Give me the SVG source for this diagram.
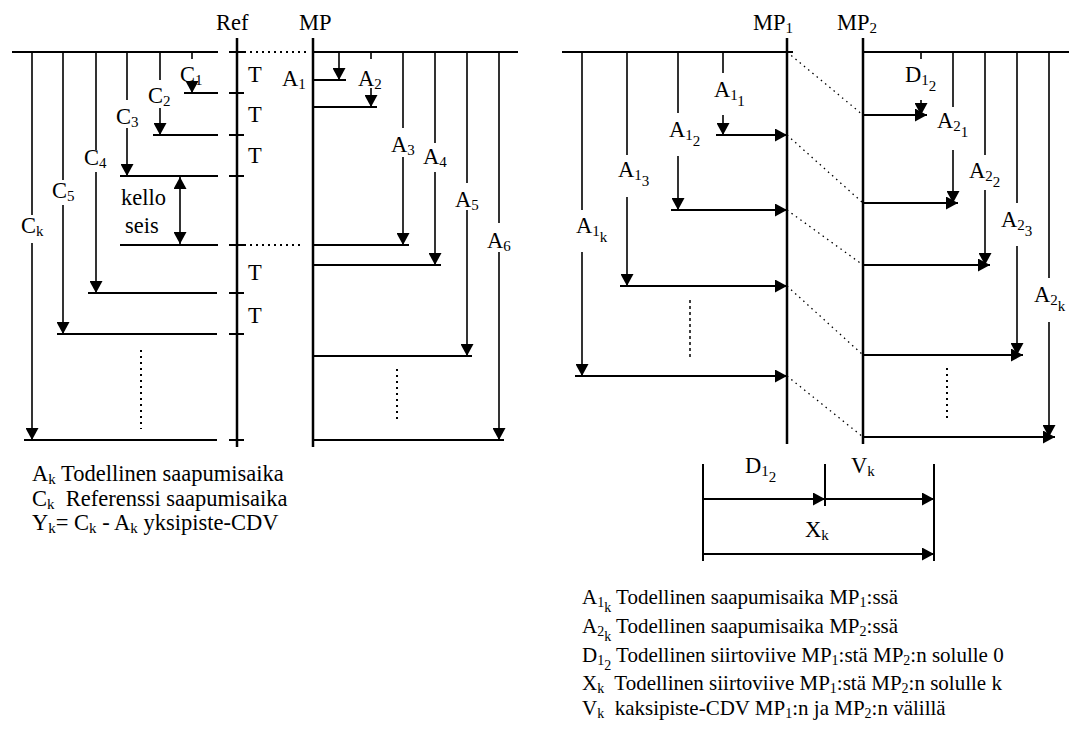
<svg xmlns="http://www.w3.org/2000/svg" width="1070" height="745" viewBox="0 0 1070 745" font-family="'Liberation Serif', 'Times New Roman', 'DejaVu Serif', serif">
<style>
text{font-family:'Liberation Serif','Times New Roman','DejaVu Serif',serif;font-size:22.5px;fill:#000}
.s{font-size:15px}
.lg{font-size:21px}
.lg .s{font-size:14px}
.ax{stroke:#000;stroke-width:2.5;fill:none}
.ln{stroke:#000;stroke-width:2;fill:none}
.v{stroke:#000;stroke-width:1.6;fill:none}
.a{stroke:#000;stroke-width:1.6;fill:none;marker-end:url(#ah)}
.ha{stroke:#000;stroke-width:2;fill:none;marker-end:url(#ah)}
.dot{stroke:#000;stroke-width:2;stroke-dasharray:2 4;fill:none}
.dg{stroke:#000;stroke-width:1.3;stroke-dasharray:1.5 4;fill:none}
</style>
<defs>
<marker id="ah" viewBox="0 0 12 13" refX="12" refY="6.5" markerWidth="12" markerHeight="13" markerUnits="userSpaceOnUse" orient="auto">
<path d="M0,0 L12,6.5 L0,13 z" fill="#000"/>
</marker>
<marker id="as" viewBox="0 0 12 13" refX="12" refY="6.5" markerWidth="12" markerHeight="13" markerUnits="userSpaceOnUse" orient="auto-start-reverse">
<path d="M0,0 L12,6.5 L0,13 z" fill="#000"/>
</marker>
</defs>

<g id="ref-axis">
<path class="ax" d="M237,38 V447"/>
<path class="ln" d="M12,52 H218 M229,52 H244 M229,93 H244 M229,135 H244 M229,176 H244 M229,245 H244 M229,293 H244 M229,334 H244 M229,440 H244"/>
<text x="216" y="30">Ref</text>
<text x="248" y="82">T</text>
<text x="248" y="122">T</text>
<text x="248" y="163">T</text>
<text x="248" y="280">T</text>
<text x="248" y="323">T</text>
</g>

<g id="ref-cells">
<path class="ln" d="M184,93 H218 M153,135 H218 M120,176 H218 M120,245 H218 M88,293 H217 M57,334 H217 M24,440 H217"/>
<text x="180" y="82">C<tspan class="s" dy="3">1</tspan></text>
<text x="148" y="103">C<tspan class="s" dy="3">2</tspan></text>
<text x="116" y="124">C<tspan class="s" dy="3">3</tspan></text>
<text x="84" y="165">C<tspan class="s" dy="3">4</tspan></text>
<text x="52" y="198">C<tspan class="s" dy="3">5</tspan></text>
<text x="21" y="233">C<tspan class="s" dy="3">k</tspan></text>
<text x="121" y="205">kello</text>
<text x="125" y="233">seis</text>
</g>

<g id="mp-axis">
<path class="ax" d="M313,38 V447"/>
<path class="ln" d="M313,52 H518 M313,80 H346 M313,107 H377 M313,245 H409 M313,265 H441 M313,356 H472 M313,440 H504"/>
<text x="299" y="30">MP</text>
<text x="282" y="86">A<tspan class="s" dy="3">1</tspan></text>
<text x="358" y="86">A<tspan class="s" dy="3">2</tspan></text>
<text x="391" y="152">A<tspan class="s" dy="3">3</tspan></text>
<text x="423" y="164">A<tspan class="s" dy="3">4</tspan></text>
<text x="455" y="207">A<tspan class="s" dy="3">5</tspan></text>
<text x="487" y="248">A<tspan class="s" dy="3">6</tspan></text>
</g>

<g id="mp1-axis">
<path class="ax" d="M787,38 V444"/>
<path class="ln" d="M562,52 H793"/>
<text x="753" y="30">MP<tspan class="s" dy="3">1</tspan></text>
<text x="714" y="97">A<tspan class="s" dy="3">1</tspan><tspan class="s" dy="6">1</tspan></text>
<text x="669" y="137">A<tspan class="s" dy="3">1</tspan><tspan class="s" dy="6">2</tspan></text>
<text x="618" y="177">A<tspan class="s" dy="3">1</tspan><tspan class="s" dy="6">3</tspan></text>
<text x="576" y="233">A<tspan class="s" dy="3">1</tspan><tspan class="s" dy="6">k</tspan></text>
</g>

<g id="mp2-axis">
<path class="ax" d="M863,38 V444"/>
<path class="ln" d="M863,52 H1069"/>
<text x="837" y="30">MP<tspan class="s" dy="3">2</tspan></text>
<text x="905" y="82">D<tspan class="s" dy="3">1</tspan><tspan class="s" dy="6">2</tspan></text>
<text x="937" y="128">A<tspan class="s" dy="3">2</tspan><tspan class="s" dy="6">1</tspan></text>
<text x="969" y="178">A<tspan class="s" dy="3">2</tspan><tspan class="s" dy="6">2</tspan></text>
<text x="1001" y="227">A<tspan class="s" dy="3">2</tspan><tspan class="s" dy="6">3</tspan></text>
<text x="1034" y="302">A<tspan class="s" dy="3">2</tspan><tspan class="s" dy="6">k</tspan></text>
</g>

<g id="delay-bar">
<path class="ln" d="M703,464 V561 M825,464 V506 M934,464 V561"/>
<text x="745" y="473">D<tspan class="s" dy="3">1</tspan><tspan class="s" dy="6">2</tspan></text>
<text x="851" y="473">V<tspan class="s" dy="3">k</tspan></text>
<text x="805" y="537">X<tspan class="s" dy="3">k</tspan></text>
</g>

<g id="connectors">
<path class="v" d="M192,52 V59 M160,52 V80 M127,52 V100 M96,52 V150 M63,52 V180 M32,52 V215"/>
<path class="a" d="M192,84 V93"/>
<path class="a" d="M160,108 V135"/>
<path class="a" d="M127,128 V176"/>
<path class="a" d="M96,172 V293"/>
<path class="a" d="M63,205 V334"/>
<path class="a" d="M32,243 V440"/>
<path class="v" d="M180,177 V244" marker-start="url(#as)" marker-end="url(#as)"/>
<path class="dot" d="M244,52 H306 M244,245 H302"/>
<path class="dot" d="M141,350 V429 M397,369 V422"/>
<path class="v" d="M371,52 V59 M403,52 V128 M435,52 V143 M467,52 V183 M499,52 V223"/>
<path class="a" d="M339,52 V80"/>
<path class="a" d="M371,88 V107"/>
<path class="a" d="M403,157 V245"/>
<path class="a" d="M435,172 V265"/>
<path class="a" d="M467,210 V356"/>
<path class="a" d="M499,252 V440"/>
<path class="v" d="M723,52 V73 M678,52 V113 M627,52 V155 M582,52 V210"/>
<path class="a" d="M723,115 V135"/>
<path class="a" d="M678,156 V210"/>
<path class="a" d="M627,197 V286"/>
<path class="a" d="M582,252 V376"/>
<path class="ha" d="M716,135 H787"/>
<path class="ha" d="M671,210 H787"/>
<path class="ha" d="M620,286 H787"/>
<path class="ha" d="M575,376 H787"/>
<path class="dot" d="M690,300 V358" style="stroke-width:1.5;stroke-dasharray:3 3"/>
<path class="dg" d="M787,52 L863,115 M787,135 L863,203 M787,210 L863,265 M787,286 L863,355 M787,376 L863,437"/>
<path class="v" d="M921,52 V59 M953,52 V107 M985,52 V155 M1017,52 V203 M1049,52 V278"/>
<path class="a" d="M921,100 V115"/>
<path class="a" d="M953,150 V203"/>
<path class="a" d="M985,190 V265"/>
<path class="a" d="M1017,246 V355"/>
<path class="a" d="M1049,322 V437"/>
<path class="ha" d="M863,115 H927"/>
<path class="ha" d="M863,203 H958"/>
<path class="ha" d="M863,265 H990"/>
<path class="ha" d="M863,355 H1023"/>
<path class="ha" d="M863,437 H1055"/>
<path class="dot" d="M947,368 V420"/>
<path class="ha" d="M703,499 H825"/>
<path class="ha" d="M825,499 H934"/>
<path class="ha" d="M703,554 H934"/>
</g>

<g id="legend-left">
<text x="32" y="481">A<tspan class="s" dy="3">k</tspan><tspan dy="-3"> Todellinen saapumisaika</tspan></text>
<text x="32" y="506" xml:space="preserve">C<tspan class="s" dy="3">k</tspan><tspan dy="-3">  Referenssi saapumisaika</tspan></text>
<text x="32" y="530">Y<tspan class="s" dy="3">k</tspan><tspan dy="-3">= C</tspan><tspan class="s" dy="3">k</tspan><tspan dy="-3"> - A</tspan><tspan class="s" dy="3">k</tspan><tspan dy="-3"> yksipiste-CDV</tspan></text>
</g>

<g id="legend-right" class="lg">
<text class="lg" x="582" y="604">A<tspan class="s" dy="3">1</tspan><tspan class="s" dy="5">k</tspan><tspan dy="-8"> Todellinen saapumisaika MP</tspan><tspan class="s" dy="3">1</tspan><tspan dy="-3">:ssä</tspan></text>
<text class="lg" x="582" y="633">A<tspan class="s" dy="3">2</tspan><tspan class="s" dy="5">k</tspan><tspan dy="-8"> Todellinen saapumisaika MP</tspan><tspan class="s" dy="3">2</tspan><tspan dy="-3">:ssä</tspan></text>
<text class="lg" x="582" y="662">D<tspan class="s" dy="3">1</tspan><tspan class="s" dy="5">2</tspan><tspan dy="-8"> Todellinen siirtoviive MP</tspan><tspan class="s" dy="3">1</tspan><tspan dy="-3">:stä MP</tspan><tspan class="s" dy="3">2</tspan><tspan dy="-3">:n solulle 0</tspan></text>
<text class="lg" x="582" y="690" xml:space="preserve">X<tspan class="s" dy="3">k</tspan><tspan dy="-3">  Todellinen siirtoviive MP</tspan><tspan class="s" dy="3">1</tspan><tspan dy="-3">:stä MP</tspan><tspan class="s" dy="3">2</tspan><tspan dy="-3">:n solulle k</tspan></text>
<text class="lg" x="582" y="715" xml:space="preserve">V<tspan class="s" dy="3">k</tspan><tspan dy="-3">  kaksipiste-CDV MP</tspan><tspan class="s" dy="3">1</tspan><tspan dy="-3">:n ja MP</tspan><tspan class="s" dy="3">2</tspan><tspan dy="-3">:n välillä</tspan></text>
</g>
</svg>
